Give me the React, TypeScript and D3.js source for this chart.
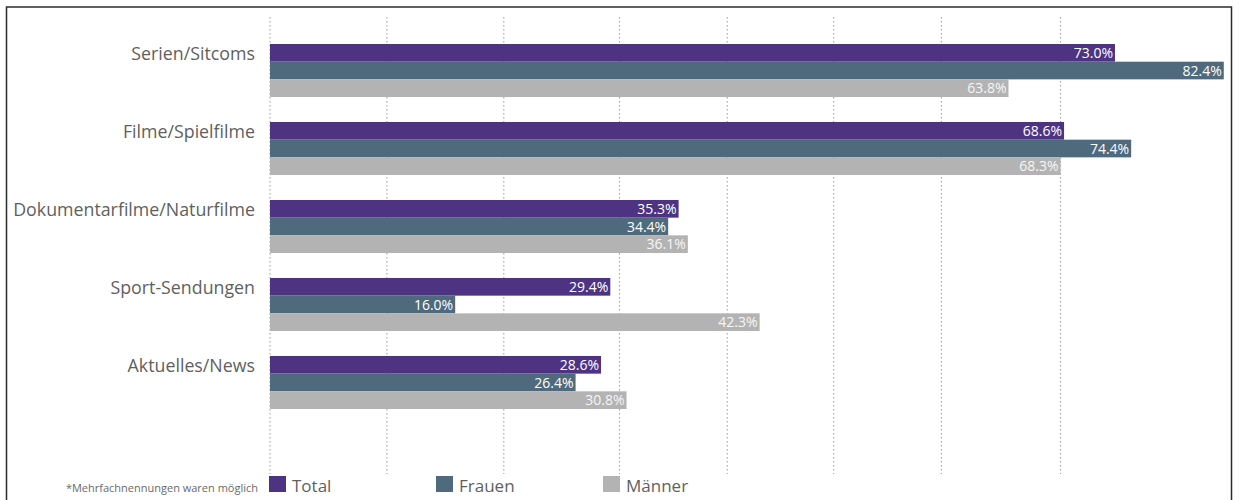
import React from "react";
import * as d3 from "d3";

const categories = [
  "Serien/Sitcoms",
  "Filme/Spielfilme",
  "Dokumentarfilme/Naturfilme",
  "Sport-Sendungen",
  "Aktuelles/News",
];
const seriesNames = ["Total", "Frauen", "Männer"];
const totalValues = [73.0, 68.6, 35.3, 29.4, 28.6];
const frauenValues = [82.4, 74.4, 34.4, 16.0, 26.4];
const maennerValues = [63.8, 68.3, 36.1, 42.3, 30.8];
const gridValues = [0, 10.1, 20.2, 30.2, 39.5, 48.7, 58.0, 68.3];
const footnote = "*Mehrfachnennungen waren möglich";

const seriesColors = ["#4e3383", "#4e6a7c", "#b3b3b3"];
const labelColors = ["#ffffff", "#ffffff", "#f6f6f6"];

const W = 1240;
const H = 500;
const FONT = "'Open Sans', 'Noto Sans', sans-serif";

export default function App() {
  const seriesValues = [totalValues, frauenValues, maennerValues];
  const x = d3.scaleLinear().domain([0, 80]).range([270, 1196]);
  const y = d3.scaleBand<string>().domain(categories).range([44, 409]).paddingInner(0.32);
  const ys = d3.scaleBand<string>().domain(seriesNames).range([0, y.bandwidth()]);
  const legendX = d3.scalePoint<string>().domain(seriesNames).range([269, 603]);

  return (
    <svg
      width={W}
      height={H}
      style={{ position: "absolute", left: 0, top: 0, background: "#fff" }}
      fontFamily={FONT}
    >
      <rect x={0} y={0} width={W} height={H} fill="#fff" />
      <rect x={6.5} y={7} width={1225} height={H + 20} fill="none" stroke="#2b2b2b" strokeWidth={1.5} />

      {gridValues.map((g, i) => (
        <line
          key={"g" + i}
          x1={x(g)}
          x2={x(g)}
          y1={17}
          y2={474}
          stroke="#999999"
          strokeWidth={1}
          strokeDasharray="1.5,2.5"
        />
      ))}

      {categories.map((c, ci) => {
        const y0 = y(c) as number;
        return (
          <g key={c}>
            <text
              x={255}
              y={y0 + ys.bandwidth() / 2 + 1}
              dy="0.36em"
              textAnchor="end"
              fontSize={17.8}
              fill="#5f5f5f"
            >
              {c}
            </text>
            {seriesNames.map((s, si) => {
              const v = seriesValues[si][ci];
              const by = y0 + (ys(s) as number);
              return (
                <g key={s}>
                  <rect
                    x={x(0)}
                    y={by}
                    width={x(v) - x(0)}
                    height={ys.bandwidth()}
                    fill={seriesColors[si]}
                  />
                  <text
                    x={x(v) - 2}
                    y={by + ys.bandwidth() / 2}
                    dy="0.36em"
                    textAnchor="end"
                    fontSize={14}
                    fill={labelColors[si]}
                  >
                    {v.toFixed(1) + "%"}
                  </text>
                </g>
              );
            })}
          </g>
        );
      })}

      <text x={258} y={492} textAnchor="end" fontSize={11} fill="#6a6a6a">
        {footnote}
      </text>
      {seriesNames.map((s, si) => {
        const lx = legendX(s) as number;
        return (
          <g key={"l" + s}>
            <rect x={lx} y={476} width={17} height={16} fill={seriesColors[si]} />
            <text x={lx + 23} y={492} fontSize={17} fill="#5f5f5f">
              {s}
            </text>
          </g>
        );
      })}
    </svg>
  );
}
